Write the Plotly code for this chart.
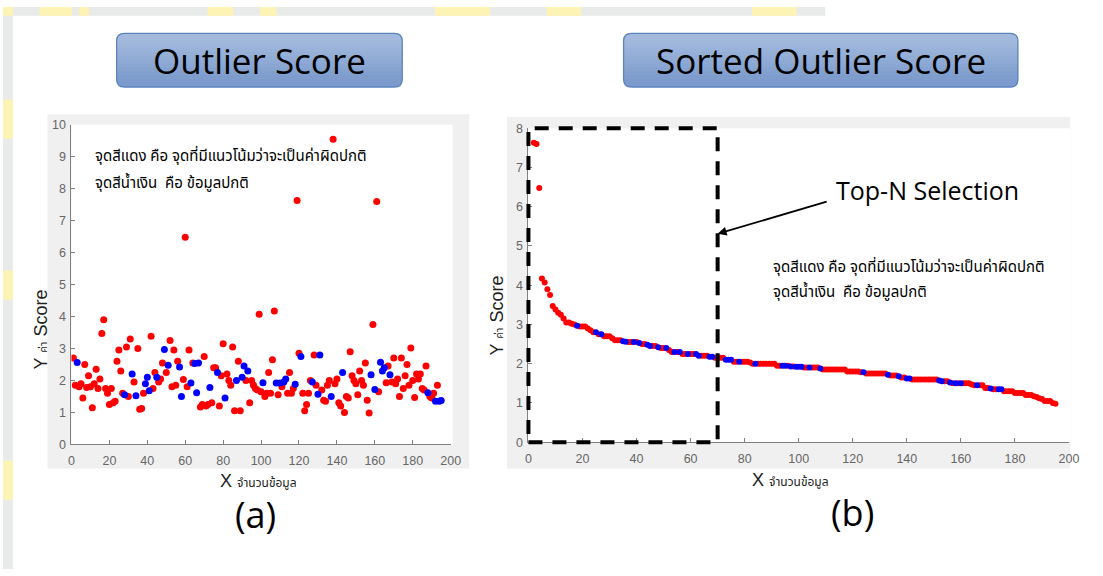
import plotly.graph_objects as go

W, H = 1103, 576

# ---------------- data ----------------
# Outlier score of each record (x = record number 1..195)
scores = [
    2.70, 1.85, 2.56, 1.80, 1.90, 1.45, 2.50, 1.78, 2.15, 1.80,
    1.15, 1.90, 2.35, 1.75, 2.05, 3.47, 3.90, 1.75, 1.60, 1.25,
    1.75, 1.30, 1.35, 2.60, 2.95, 2.30, 1.60, 1.55, 3.05, 1.50,
    3.30, 2.20, 1.95, 1.52, 3.00, 1.10, 1.12, 1.60, 1.90, 2.10,
    1.68, 3.38, 1.75, 2.25, 2.10, 1.95, 2.05, 2.55, 2.97, 2.25,
    2.48, 3.25, 1.80, 2.95, 1.85, 2.60, 2.42, 1.50, 2.03, 6.48,
    1.80, 2.95, 1.92, 2.55, 2.53, 1.62, 2.55, 1.17, 1.25, 2.75,
    1.20, 1.25, 1.78, 1.30, 2.40, 2.40, 2.25, 1.20, 2.15, 3.15,
    1.45, 2.20, 2.00, 1.85, 3.05, 1.05, 2.00, 2.60, 1.05, 2.10,
    2.45, 2.00, 2.30, 1.30, 2.00, 1.85, 1.75, 1.70, 4.07, 1.65,
    1.93, 1.50, 1.60, 2.25, 1.60, 2.65, 4.17, 1.92, 1.55, 1.92,
    1.80, 1.95, 2.05, 1.60, 2.25, 1.60, 1.75, 1.88, 7.63, 2.85,
    2.75, 1.60, 1.05, 1.25, 1.60, 2.00, 1.95, 2.80, 1.85, 1.57,
    2.80, 1.70, 1.38, 1.35, 1.85, 2.00, 1.50, 9.55, 1.90, 2.05,
    1.30, 1.20, 2.25, 1.00, 1.50, 1.45, 2.90, 2.15, 2.00, 1.90,
    1.55, 2.30, 2.00, 1.85, 2.55, 1.38, 0.98, 2.18, 3.75, 1.72,
    7.60, 1.65, 2.57, 2.30, 2.40, 1.93, 2.45, 2.18, 1.95, 2.70,
    1.90, 2.05, 1.50, 2.70, 1.75, 2.15, 2.50, 1.85, 3.02, 2.00,
    1.47, 2.20, 2.05, 2.20, 1.75, 1.70, 2.45, 1.62, 1.50, 1.45,
    1.60, 1.35, 1.85, 1.35, 1.37,
]
# 1 = normal record (blue), 0 = likely outlier (red)
normal = [
    0, 0, 1, 0, 0, 0, 0, 0, 0, 0,
    0, 0, 0, 0, 0, 0, 0, 0, 0, 0,
    0, 0, 0, 0, 0, 0, 0, 1, 0, 0,
    0, 1, 0, 1, 0, 0, 0, 0, 1, 1,
    1, 0, 0, 0, 1, 0, 0, 0, 1, 0,
    1, 0, 0, 0, 0, 0, 1, 1, 0, 0,
    0, 0, 1, 0, 1, 1, 1, 0, 0, 0,
    0, 0, 1, 0, 0, 0, 1, 0, 0, 0,
    1, 0, 0, 0, 0, 0, 1, 0, 0, 1,
    1, 0, 1, 0, 0, 0, 0, 0, 0, 0,
    1, 0, 0, 0, 0, 0, 0, 1, 0, 1,
    0, 1, 1, 0, 0, 0, 0, 1, 0, 0,
    1, 0, 0, 0, 0, 0, 1, 0, 0, 1,
    1, 0, 0, 0, 0, 0, 1, 0, 0, 0,
    0, 0, 1, 0, 0, 0, 0, 0, 0, 0,
    0, 0, 0, 0, 0, 0, 0, 1, 0, 1,
    0, 0, 1, 1, 1, 0, 0, 1, 0, 0,
    0, 0, 0, 0, 0, 0, 0, 0, 0, 0,
    0, 0, 0, 0, 0, 0, 0, 1, 0, 0,
    0, 1, 0, 1, 1,
]
record_no = list(range(1, len(scores) + 1))

x_ticks = list(range(0, 201, 20))
y_ticks_a = list(range(0, 11))
y_ticks_b = list(range(0, 9))

title_a = "Outlier Score"
title_b = "Sorted Outlier Score"
note_red = "จุดสีแดง คือ จุดที่มีแนวโน้มว่าจะเป็นค่าผิดปกติ"
note_blue = "จุดสีน้ำเงิน  คือ ข้อมูลปกติ"
top_n = 70
top_n_label = "Top-N Selection"

# sorted (descending) version of the same scores
order = sorted(range(len(scores)), key=lambda i: -scores[i])
sorted_scores = [scores[i] for i in order]
sorted_normal = [normal[i] for i in order]
rank = list(range(1, len(scores) + 1))

RED, BLUE = "#ff0000", "#0000ff"
TICK_FONT = dict(family="Liberation Sans, Arial, sans-serif", size=12.5, color="#666666")
THAI = "Tahoma, 'Noto Sans Thai', Loma, Garuda, sans-serif"
UI = "Open Sans, Lato, sans-serif"

def px(x):
    return x / W

def py(y):
    return 1 - y / H

fig = go.Figure()

def split(xs, ys, flags, want):
    return ([x for x, f in zip(xs, flags) if f == want],
            [y for y, f in zip(ys, flags) if f == want])

xr, yr = split(record_no, scores, normal, 0)
xb, yb = split(record_no, scores, normal, 1)
fig.add_trace(go.Scatter(x=xr, y=yr, mode="markers", marker=dict(color=RED, size=7),
                         xaxis="x", yaxis="y", showlegend=False, hoverinfo="skip"))
fig.add_trace(go.Scatter(x=xb, y=yb, mode="markers", marker=dict(color=BLUE, size=7),
                         xaxis="x", yaxis="y", showlegend=False, hoverinfo="skip"))

xr2, yr2 = split(rank, sorted_scores, sorted_normal, 0)
xb2, yb2 = split(rank, sorted_scores, sorted_normal, 1)
fig.add_trace(go.Scatter(x=xr2, y=yr2, mode="markers", marker=dict(color=RED, size=6),
                         xaxis="x2", yaxis="y2", showlegend=False, hoverinfo="skip"))
fig.add_trace(go.Scatter(x=xb2, y=yb2, mode="markers", marker=dict(color=BLUE, size=6),
                         xaxis="x2", yaxis="y2", showlegend=False, hoverinfo="skip"))

# axis placement (pixels)
A_X0, A_X1, A_Y0, A_Y1 = 69.3, 453.0, 448.3, 120.7   # left plot box
B_X0, B_X1, B_Y0, B_Y1 = 531.7, 1078.7, 446.0, 124.3  # right plot box

axis_common = dict(showgrid=False, zeroline=False, showline=True, linecolor="#808080",
                   linewidth=1, ticks="inside", ticklen=4, tickcolor="#808080",
                   tickfont=TICK_FONT, fixedrange=True)
xa_common = dict(axis_common, ticklabelstandoff=5)
ya_common = dict(axis_common, ticklabelstandoff=2)

fig.update_layout(
    width=W, height=H, autosize=False,
    margin=dict(l=0, r=0, t=0, b=0),
    paper_bgcolor="white", plot_bgcolor="rgba(0,0,0,0)",
    xaxis=dict(domain=[px(A_X0), px(A_X1)], range=[0, 200], tickvals=x_ticks,
               anchor="y", **xa_common),
    yaxis=dict(domain=[py(A_Y0), py(A_Y1)], range=[0, 10], tickvals=y_ticks_a,
               anchor="x", **ya_common),
    xaxis2=dict(domain=[px(B_X0), px(B_X1)], range=[0, 200], tickvals=x_ticks,
                anchor="y2", **xa_common),
    yaxis2=dict(domain=[py(B_Y0), py(B_Y1)], range=[0, 8], tickvals=y_ticks_b,
                anchor="x2", **ya_common),
)

shapes = []

def rect(x0, y0, x1, y1, fill, layer="below"):
    shapes.append(dict(type="rect", xref="paper", yref="paper",
                       x0=px(x0), x1=px(x1), y0=py(y1), y1=py(y0),
                       fillcolor=fill, line=dict(width=0), layer=layer))

# slide background strips with faint watermark colour
rect(0, 0, 832, 9, "#e9ebea")
rect(0, 0, 10, 576, "#e9ebea")
for a, b in [(0, 10), (37, 70), (77, 87), (207, 233), (260, 277), (437, 493), (550, 585), (758, 803)]:
    rect(a, 0, b, 9, "#fdf3b5")
for a, b in [(95, 135), (270, 300), (465, 505)]:
    rect(0, a, 10, b, "#fdf3b5")

# figure (grey) backgrounds and white plot areas
rect(45, 110, 471.7, 473, "#f0f0f0")
rect(A_X0, A_Y1, A_X1 + 2, A_Y0, "white")
rect(510, 112.7, 1080, 473, "#f0f0f0")
rect(B_X0, B_Y1, B_X1 + 1, B_Y0, "white")

# title boxes with vertical gradient and rounded corners
def P(x, y):
    return f"{px(x):.5f},{py(y):.5f}"

def rounded(x0, y0, x1, y1, r):
    return (f"M {P(x0 + r, y0)} L {P(x1 - r, y0)} Q {P(x1, y0)} {P(x1, y0 + r)} "
            f"L {P(x1, y1 - r)} Q {P(x1, y1)} {P(x1 - r, y1)} L {P(x0 + r, y1)} "
            f"Q {P(x0, y1)} {P(x0, y1 - r)} L {P(x0, y0 + r)} Q {P(x0, y0)} {P(x0 + r, y0)} Z")

def mix(c0, c1, t):
    return "rgb(%d,%d,%d)" % tuple(round(a + (b - a) * t) for a, b in zip(c0, c1))

TOP, BOT = (163, 186, 221), (124, 155, 204)

def title_box(x0, y0, x1, y1):
    r = 8
    shapes.append(dict(type="path", xref="paper", yref="paper", layer="below",
                       path=rounded(x0, y0, x1, y1, r), fillcolor=mix(TOP, BOT, 0.5),
                       line=dict(width=0)))
    shapes.append(dict(type="path", xref="paper", yref="paper", layer="below",
                       path=(f"M {P(x0, y0 + r + 0.5)} L {P(x0, y0 + r)} Q {P(x0, y0)} {P(x0 + r, y0)} "
                             f"L {P(x1 - r, y0)} Q {P(x1, y0)} {P(x1, y0 + r)} L {P(x1, y0 + r + 0.5)} Z"),
                       fillcolor=mix(TOP, BOT, 0.0), line=dict(width=0)))
    shapes.append(dict(type="path", xref="paper", yref="paper", layer="below",
                       path=(f"M {P(x0, y1 - r - 0.5)} L {P(x0, y1 - r)} Q {P(x0, y1)} {P(x0 + r, y1)} "
                             f"L {P(x1 - r, y1)} Q {P(x1, y1)} {P(x1, y1 - r)} L {P(x1, y1 - r - 0.5)} Z"),
                       fillcolor=mix(TOP, BOT, 1.0), line=dict(width=0)))
    n = 10
    h = (y1 - y0 - 2 * r) / n
    for k in range(n):
        ya = y0 + r + k * h
        rect(x0, ya - 0.3, x1, ya + h + 0.3, mix(TOP, BOT, (k + 0.5) / n))
    shapes.append(dict(type="path", xref="paper", yref="paper", layer="below",
                       path=rounded(x0, y0, x1, y1, r), fillcolor="rgba(0,0,0,0)",
                       line=dict(color="#5b84bf", width=1.3)))

title_box(115, 27, 404, 82)
title_box(628, 27, 1027, 82)

# Top-N dashed selection box (mapped through axis 2 scale)
def bx(v):
    d = fig.layout.xaxis2.domain
    r = fig.layout.xaxis2.range
    return d[0] + (v - r[0]) / (r[1] - r[0]) * (d[1] - d[0])

def by(v):
    d = fig.layout.yaxis2.domain
    r = fig.layout.yaxis2.range
    return d[0] + (v - r[0]) / (r[1] - r[0]) * (d[1] - d[0])

shapes.append(dict(type="rect", xref="paper", yref="paper", layer="above",
                   x0=bx(0), x1=bx(top_n), y0=by(0), y1=by(8),
                   line=dict(color="black", width=4, dash="14px,10px"),
                   fillcolor="rgba(0,0,0,0)"))

fig.update_layout(shapes=shapes)

ann = []

def note(text, x, y, font, xref="paper", yref="paper", xa="center", ya="middle", **kw):
    ann.append(dict(text=text, x=x, y=y, xref=xref, yref=yref, xanchor=xa, yanchor=ya,
                    showarrow=False, font=font, **kw))

note(title_a, px(259.5), py(55), dict(family=UI, size=35, color="black"))
note(title_b, px(827.5), py(55), dict(family=UI, size=35, color="black"))
note("(a)", px(256), py(520), dict(family=UI, size=36, color="black"))
note("(b)", px(860), py(518), dict(family=UI, size=36, color="black"))

xlab = "X <span style='font-size:12px'>จำนวนข้อมูล</span>"
ylab = "Y <span style='font-size:11px'>ค่า</span> Score"
LBL = dict(family="Liberation Sans, Arial, " + THAI, size=18, color="#222222")
note(xlab, px(259), py(486), LBL)
note(xlab, px(797), py(485), LBL)
note(ylab, px(38), py(331), LBL, textangle=-90)
note(ylab, px(500), py(316), LBL, textangle=-90)

NOTE = dict(family=THAI, size=15, color="black")
note(note_red, 11.3, 9.0, NOTE, "x", "y", "left")
note(note_blue, 11.3, 8.15, NOTE, "x", "y", "left")
note(note_red, 89.7, 4.46, NOTE, "x2", "y2", "left")
note(note_blue, 89.7, 3.81, NOTE, "x2", "y2", "left")

note(top_n_label, 147.5, 6.42, dict(family=UI, size=25, color="black"), "x2", "y2")
ann.append(dict(text="", x=top_n, y=5.31, xref="x2", yref="y2", ax=110.9, ay=6.14,
                axref="x2", ayref="y2", showarrow=True, arrowhead=2, arrowsize=1,
                arrowwidth=1.8, arrowcolor="black"))

fig.update_layout(annotations=ann)

fig.write_html(
    "out.html",
    config={"displayModeBar": False, "responsive": False},
    post_script=(
        "document.documentElement.style.margin='0';"
        "document.documentElement.style.padding='0';"
        "document.body.style.margin='0';"
        "document.body.style.padding='0';"
        "document.body.style.overflow='hidden';"
    ),
)
